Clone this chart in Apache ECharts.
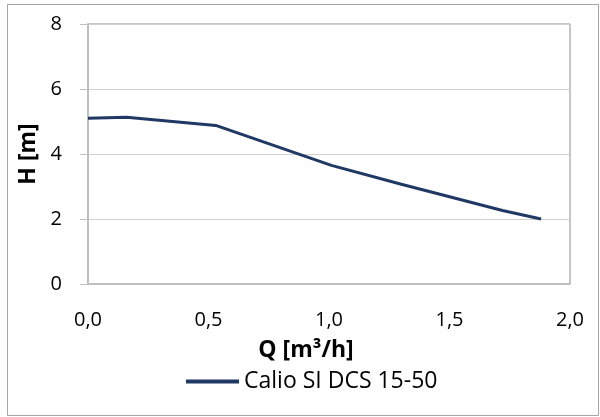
<!DOCTYPE html>
<html>
<head>
<meta charset="utf-8">
<script src="https://cdn.jsdelivr.net/npm/echarts@6/dist/echarts.min.js"></script>
<style>
html,body{margin:0;padding:0;background:#fff;}
#chart{width:600px;height:417px;}
</style>
</head>
<body>
<div id="chart"></div>
<script>
var seriesName = 'Calio SI DCS 15-50';
var flowQ = [0.00, 0.16, 0.53, 1.01, 1.30, 1.72, 1.88];
var headH = [5.10, 5.13, 4.88, 3.65, 3.07, 2.26, 2.00];
var xTicks = [0, 0.5, 1.0, 1.5, 2.0];
var yTicks = [0, 2, 4, 6, 8];
var xAxisTitle = 'Q [m³/h]';
var yAxisTitle = 'H [m]';

var FONT = '"Open Sans", sans-serif';
var chart = echarts.init(document.getElementById('chart'), null, {renderer: 'canvas'});
var pts = flowQ.map(function (q, i) { return [q, headH[i]]; });

chart.setOption({
  animation: false,
  backgroundColor: '#ffffff',
  graphic: [{
    type: 'rect',
    shape: {x: 7.5, y: 4.5, width: 591, height: 411},
    style: {fill: 'none', stroke: '#a6a6a6', lineWidth: 1},
    silent: true
  }],
  grid: {
    left: 88, right: 30, top: 24, bottom: 133,
    show: true, borderColor: '#8c8c8c', borderWidth: 1, backgroundColor: 'transparent'
  },
  legend: {
    data: [seriesName],
    left: 181, top: 365,
    icon: 'rect', itemWidth: 53, itemHeight: 4,
    textStyle: {fontFamily: FONT, fontSize: 23, color: '#000'}
  },
  xAxis: {
    type: 'value', min: xTicks[0], max: xTicks[xTicks.length - 1], interval: 0.5,
    name: xAxisTitle, nameLocation: 'middle', nameGap: 55,
    nameTextStyle: {fontFamily: FONT, fontSize: 23, fontWeight: 'bold', color: '#000', padding: [0, 46, 0, 0]},
    axisLine: {show: true, lineStyle: {color: '#bfbfbf', width: 2}},
    axisTick: {show: false},
    splitLine: {show: false},
    axisLabel: {
      fontFamily: FONT, fontSize: 20, color: '#000', margin: 26,
      formatter: function (v) { return v.toFixed(1).replace('.', ','); }
    }
  },
  yAxis: {
    type: 'value', min: yTicks[0], max: yTicks[yTicks.length - 1], interval: 2,
    name: yAxisTitle, nameLocation: 'middle', nameGap: 48, nameRotate: 90,
    nameTextStyle: {fontFamily: FONT, fontSize: 23, fontWeight: 'bold', color: '#000'},
    axisLine: {show: true, lineStyle: {color: '#bfbfbf', width: 2}},
    axisTick: {show: true, length: 8, lineStyle: {color: '#bfbfbf', width: 1}},
    splitLine: {show: true, lineStyle: {color: '#d0d0d0', width: 1}},
    axisLabel: {fontFamily: FONT, fontSize: 20, color: '#000', margin: 26}
  },
  series: [{
    name: seriesName,
    type: 'line',
    data: pts,
    showSymbol: false,
    symbol: 'none',
    lineStyle: {color: '#203864', width: 3},
    itemStyle: {color: '#203864'}
  }]
});
</script>
</body>
</html>
